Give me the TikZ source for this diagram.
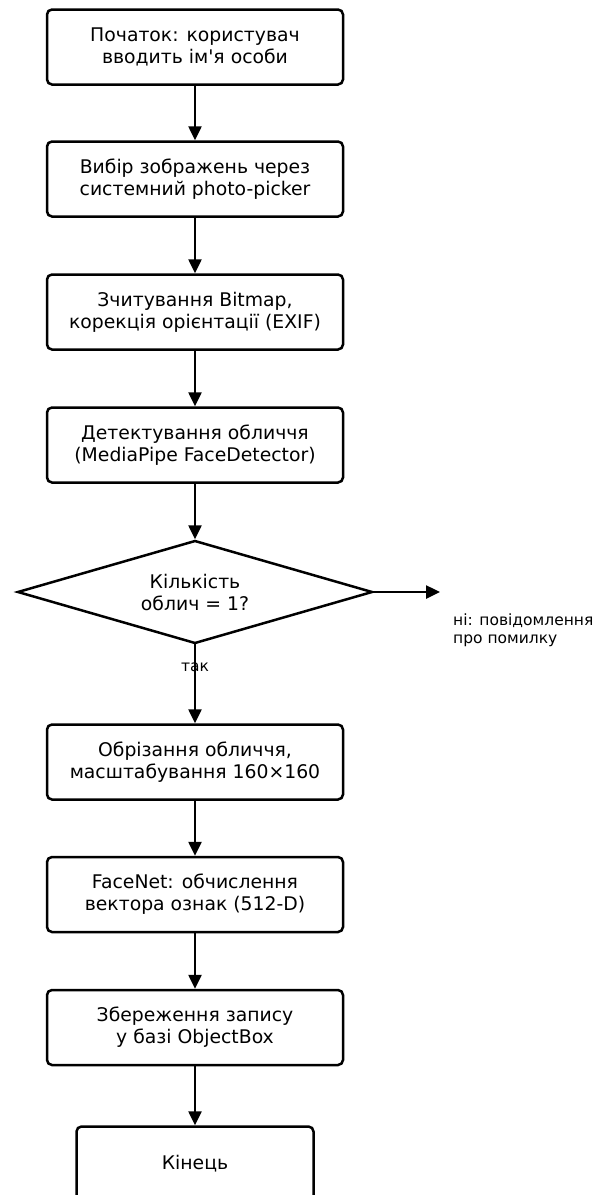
\documentclass[tikz,border=0pt]{standalone}
\usepackage{fontspec}
\setmainfont{DejaVu Sans}
\usetikzlibrary{arrows.meta,shapes.geometric}
\begin{document}
\begin{tikzpicture}[x=1pt,y=-1pt,
  stepbox/.style={draw,line width=2.5pt,rounded corners=5pt,minimum width=296pt,minimum height=75pt,align=center,
    font=\fontsize{18.8}{22}\selectfont,inner sep=0pt},
  decision/.style={draw,line width=2.5pt,diamond,aspect=3.48,minimum width=355pt,minimum height=103pt,inner sep=0pt,align=center,
    font=\fontsize{18.8}{22}\selectfont},
  flow/.style={line width=2.5pt,-{Triangle[length=14pt,width=13pt]}},
  small/.style={font=\fontsize{15.5}{18}\selectfont,align=left,inner sep=0pt}]
\useasboundingbox (0,0) rectangle (594,1195);
\node[stepbox] (s1) at (195,47) {Початок: користувач\\вводить ім\textquotesingle я особи};
\node[stepbox] (s2) at (195,179) {Вибір зображень через\\системний photo-picker};
\node[stepbox] (s3) at (195,312) {Зчитування Bitmap,\\корекція орієнтації (EXIF)};
\node[stepbox] (s4) at (195,445) {Детектування обличчя\\(MediaPipe FaceDetector)};
\node[decision] (d) at (195,592) {Кількість\\облич = 1?};
\node[stepbox] (s5) at (195,762) {Обрізання обличчя,\\масштабування 160×160};
\node[stepbox] (s6) at (195,894.5) {FaceNet: обчислення\\вектора ознак (512-D)};
\node[stepbox] (s7) at (195,1027.5) {Збереження запису\\у базі ObjectBox};
\node[stepbox,minimum width=237pt] (s8) at (195,1164) {Кінець};
\coordinate (no) at (440,592);
\node[small,anchor=north west] (nolbl) at (453,614) {ні: повідомлення\\про помилку};
\node[small] (yes) at (195,667) {так};
\draw[flow] (s1.south) -- (s2.north);
\draw[flow] (s2.south) -- (s3.north);
\draw[flow] (s3.south) -- (s4.north);
\draw[flow] (s4.south) -- (d.north);
\draw[flow] ([yshift=2pt]d.south) -- (s5.north);
\draw[flow] (d.east) -- (no);
\draw[flow] (s5.south) -- (s6.north);
\draw[flow] (s6.south) -- (s7.north);
\draw[flow] (s7.south) -- (s8.north);
\end{tikzpicture}
\end{document}
